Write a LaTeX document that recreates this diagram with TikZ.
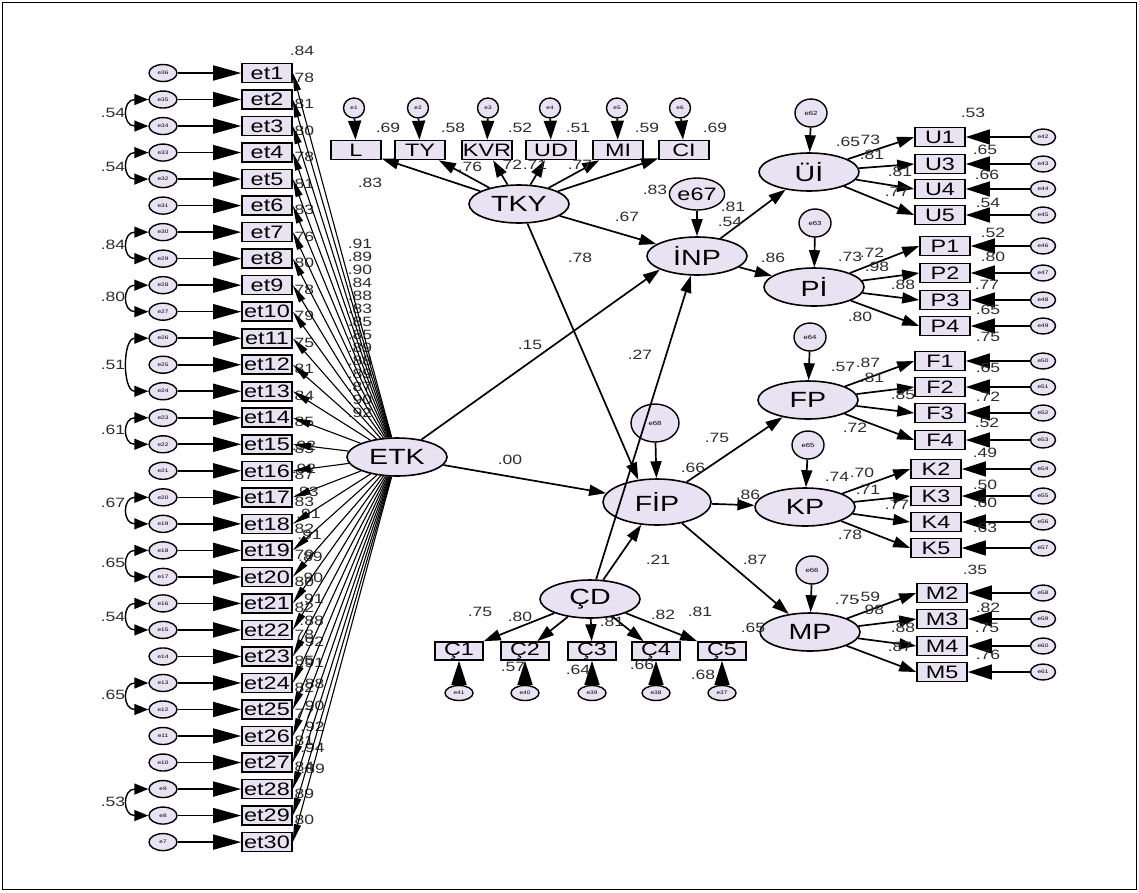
\documentclass[tikz,border=0pt]{standalone}
\usepackage{fontspec}
\setmainfont{Liberation Sans}[FakeStretch=1.3]
\usetikzlibrary{arrows.meta,shapes.geometric}
\definecolor{lavfill}{RGB}{233,226,243}
\definecolor{numgray}{RGB}{45,45,45}
\tikzset{
  obs/.style={draw, line width=1.6pt, fill=lavfill, minimum width=50pt, minimum height=19pt, inner sep=0pt, font=\fontsize{18}{18}\selectfont},
  lat/.style={ellipse, draw, line width=1.6pt, fill=lavfill, minimum width=100pt, minimum height=38pt, inner sep=0pt, font=\fontsize{22}{22}\selectfont},
  err/.style={ellipse, draw, line width=1.4pt, fill=lavfill, minimum width=28pt, minimum height=17pt, inner sep=0pt, font=\fontsize{5}{5}\selectfont},
  errlat/.style={err, minimum width=32pt, minimum height=28pt, font=\fontsize{6}{6}\selectfont},
  num/.style={inner sep=0pt, text=numgray, font=\fontsize{13.5}{13.5}\selectfont},
  reg/.style={-{Triangle[length=17pt,width=11pt]}, line width=1.7pt},
  res/.style={-{Triangle[length=24pt,width=15pt]}, line width=1.6pt},
  resT/.style={-{Triangle[length=19pt,width=13pt]}, line width=1.6pt},
  resL/.style={-{Triangle[length=28pt,width=15pt]}, line width=1.6pt},
  fan/.style={-{Triangle[length=18pt,width=7pt]}, line width=1.1pt},
  cov/.style={{Triangle[length=14pt,width=11pt]}-{Triangle[length=14pt,width=11pt]}, line width=1.4pt},
}
\begin{document}
\begin{tikzpicture}[x=1pt,y=-1pt]
\useasboundingbox (0,0) rectangle (1139,892);
\draw[line width=1.5pt] (2.5,2.5) rectangle (1136.5,889.5);

\node[lat] (ETK) at (397,457) {ETK};
\foreach \i/\rq in {1/.84,2/.78,3/.81,4/.80,5/.78,6/.81,7/.83,8/.76,9/.80,10/.78,11/.79,12/.75,13/.81,14/.84,15/.85,16/.85,17/.87,18/.83,19/.82,20/.79,21/.80,22/.82,23/.78,24/.85,25/.82,26/.77,27/.81,28/.84,29/.89,30/.80}{
  \pgfmathsetmacro{\yy}{73+(\i-1)*26.52}
  \pgfmathtruncatemacro{\ee}{37-\i}
  \node[obs] (et\i) at (267,\yy) {et\i};
  \node[err] (e\ee) at (163,\yy) {e\ee};
  \draw[resL] (e\ee) -- (et\i);
  \node[num] at (302,\yy-22) {\rq};
}
\foreach \i/\lv in {1/.91,2/.89,3/.90,4/.84,5/.88,6/.83,7/.85,8/.85,9/.89,10/.88,11/.89,12/.87,13/.90,14/.92}
  \node[num] at (360,{244+13*(\i-1)}) {\lv};
\foreach \i/\lv in {15/.92,16/.92,17/.93,18/.91,19/.91,20/.89,21/.90,22/.91,23/.88,24/.92,25/.91,26/.88,27/.90,28/.92,29/.94,30/.89}
  \path (ETK) -- (et\i.east) node[num,pos=0.8] {\lv};
\foreach \i in {1,...,30}
  \draw[fan] (ETK) -- (et\i.east);
\foreach \a/\b/\v/\ly in {35/34/.54/113,33/32/.54/167,30/29/.84/245,28/27/.80/297,26/24/.51/365,23/22/.61/430,20/19/.67/503,18/17/.65/563,16/15/.54/617,13/12/.65/695,9/8/.53/802}{
  \draw[cov] (e\a.west) .. controls +(-26,0) and +(-26,0) .. (e\b.west);
  \node[num] at (113,\ly) {\v};
}

\node[lat] (TKY) at (519,204) {TKY};
\foreach \nm/\x/\ex/\k/\rq/\rx in {L/356/354/1/.69/388,TY/420/418/2/.58/453,KVR/487/488/3/.52/520,UD/551/550/4/.51/578,MI/618/617/5/.59/647,CI/684/680/6/.69/715}{
  \node[obs] (\nm) at (\x,150) {\nm};
  \node[err, minimum width=21pt, minimum height=20pt] (e\k) at (\ex,108) {e\k};
  \draw[resT] (e\k) -- (\nm);
  \draw[reg] (TKY) -- (\nm);
  \node[num] at (\rx,128) {\rq};
}
\node[num] at (370,183) {.83};
\node[num] at (470,167) {.76};
\node[num] at (510,165) {.72};
\node[num] at (535,165) {.71};
\node[num] at (580,165) {.77};
\node[num] at (655,190) {.83};

\node[lat] (INP) at (697,256) {İNP};
\node[lat, minimum width=108pt, minimum height=46pt] (FIP) at (657,502) {FİP};
\node[lat] (CD) at (590,599) {ÇD};
\node[lat] (UI) at (809,172) {Üİ};
\node[lat] (PI) at (814,287) {Pİ};
\node[lat] (FP) at (808,400) {FP};
\node[lat] (KP) at (805,507) {KP};
\node[lat] (MP) at (810,632) {MP};
\node[err, minimum width=40pt, minimum height=32pt, font=\fontsize{18}{18}\selectfont] (e67) at (697,194) {e67};
\node[errlat, minimum width=48pt, minimum height=38pt] (e68) at (655,423) {e68};
\node[errlat] (e62) at (811,113) {e62};
\node[errlat] (e63) at (815,223) {e63};
\node[errlat] (e64) at (810,337) {e64};
\node[errlat] (e65) at (808,445) {e65};
\node[errlat] (e66) at (812,570) {e66};

\foreach \nm/\x/\y/\k/\rx/\ry/\rq in {U1/940/137/42/973/113/.53,U3/940/164/43/985/150/.65,U4/940/189/44/987/175/.66,U5/940/215/45/988/203/.54,P1/945/246/46/993/233/.52,P2/945/273/47/993/257/.80,P3/945/300/48/987/285/.77,P4/945/326/49/988/310/.65,F1/940/361/50/988/337/.75,F2/940/387/51/988/368/.65,F3/940/413/52/988/397/.72,F4/940/440/53/987/423/.52,K2/936/469/54/985/453/.49,K3/936/496/55/985/485/.50,K4/936/522/56/985/503/.60,K5/936/548/57/985/528/.63,M2/942/593/58/975/570/.35,M3/942/619/59/988/608/.82,M4/942/646/60/987/628/.75,M5/942/672/61/988/655/.76}{
  \node[obs] (\nm) at (\x,\y) {\nm};
  \node[err, minimum width=25pt, minimum height=16pt] (e\k) at (1043,\y) {e\k};
  \draw[res] (e\k) -- (\nm);
  \node[num] at (\rx,\ry) {\rq};
}
\foreach \nm in {U1,U3,U4,U5} \draw[reg] (UI) -- (\nm.west);
\foreach \nm in {P1,P2,P3,P4} \draw[reg] (PI) -- (\nm.west);
\foreach \nm in {F1,F2,F3,F4} \draw[reg] (FP) -- (\nm.west);
\foreach \nm in {K2,K3,K4,K5} \draw[reg] (KP) -- (\nm.west);
\foreach \nm in {M2,M3,M4,M5} \draw[reg] (MP) -- (\nm.west);

\foreach \j/\x/\k in {1/459/41,2/525/40,3/592/39,4/656/38,5/722/37}{
  \node[obs, minimum width=48pt, minimum height=18pt] (C\j) at (\x,651) {Ç\j};
  \node[err, minimum width=28pt, minimum height=15pt] (e\k) at (\x,693) {e\k};
  \draw[res] (e\k) -- (C\j);
  \draw[reg] (CD) -- (C\j);
}

\draw[reg] (ETK) edge (INP.200);
\draw[reg] (ETK) edge (FIP);
\draw[reg] (TKY) edge (INP);
\draw[reg] (TKY) edge (FIP.130);
\draw[reg] (CD) edge (INP);
\draw[reg] (CD) edge (FIP);
\draw[reg] (INP) edge (UI);
\draw[reg] (INP) edge (PI);
\draw[reg] (FIP) edge (FP);
\draw[reg] (FIP) edge (KP);
\draw[reg] (FIP) edge (MP);
\draw[reg] (e67) edge (INP);
\draw[reg] (e68) edge (FIP);
\draw[reg] (e62) edge (UI);
\draw[reg] (e63) edge (PI);
\draw[reg] (e64) edge (FP);
\draw[reg] (e65) edge (KP);
\draw[reg] (e66) edge (MP);

\node[num] at (580,258) {.78};
\node[num] at (627,217) {.67};
\node[num] at (530,345) {.15};
\node[num] at (640,355) {.27};
\node[num] at (510,460) {.00};
\node[num] at (717,438) {.75};
\node[num] at (693,468) {.66};
\node[num] at (748,495) {.86};
\node[num] at (658,560) {.21};
\node[num] at (755,560) {.87};
\node[num] at (733,207) {.81};
\node[num] at (730,222) {.54};
\node[num] at (773,258) {.86};
\node[num] at (753,628) {.65};

\node[num] at (848,142) {.65};
\node[num] at (868,140) {.73};
\node[num] at (872,155) {.81};
\node[num] at (900,172) {.81};
\node[num] at (897,192) {.77};
\node[num] at (850,257) {.73};
\node[num] at (872,253) {.72};
\node[num] at (877,267) {.98};
\node[num] at (903,285) {.88};
\node[num] at (860,317) {.80};
\node[num] at (843,367) {.57};
\node[num] at (868,363) {.87};
\node[num] at (872,378) {.81};
\node[num] at (903,395) {.85};
\node[num] at (855,428) {.72};
\node[num] at (837,477) {.74};
\node[num] at (862,473) {.70};
\node[num] at (868,490) {.71};
\node[num] at (897,505) {.77};
\node[num] at (850,535) {.78};
\node[num] at (847,600) {.75};
\node[num] at (868,597) {.59};
\node[num] at (872,610) {.98};
\node[num] at (903,628) {.88};
\node[num] at (900,647) {.87};

\node[num] at (480,612) {.75};
\node[num] at (520,617) {.80};
\node[num] at (612,622) {.81};
\node[num] at (663,615) {.82};
\node[num] at (700,612) {.81};
\node[num] at (513,667) {.57};
\node[num] at (578,670) {.64};
\node[num] at (642,665) {.66};
\node[num] at (703,675) {.68};
\end{tikzpicture}
\end{document}
